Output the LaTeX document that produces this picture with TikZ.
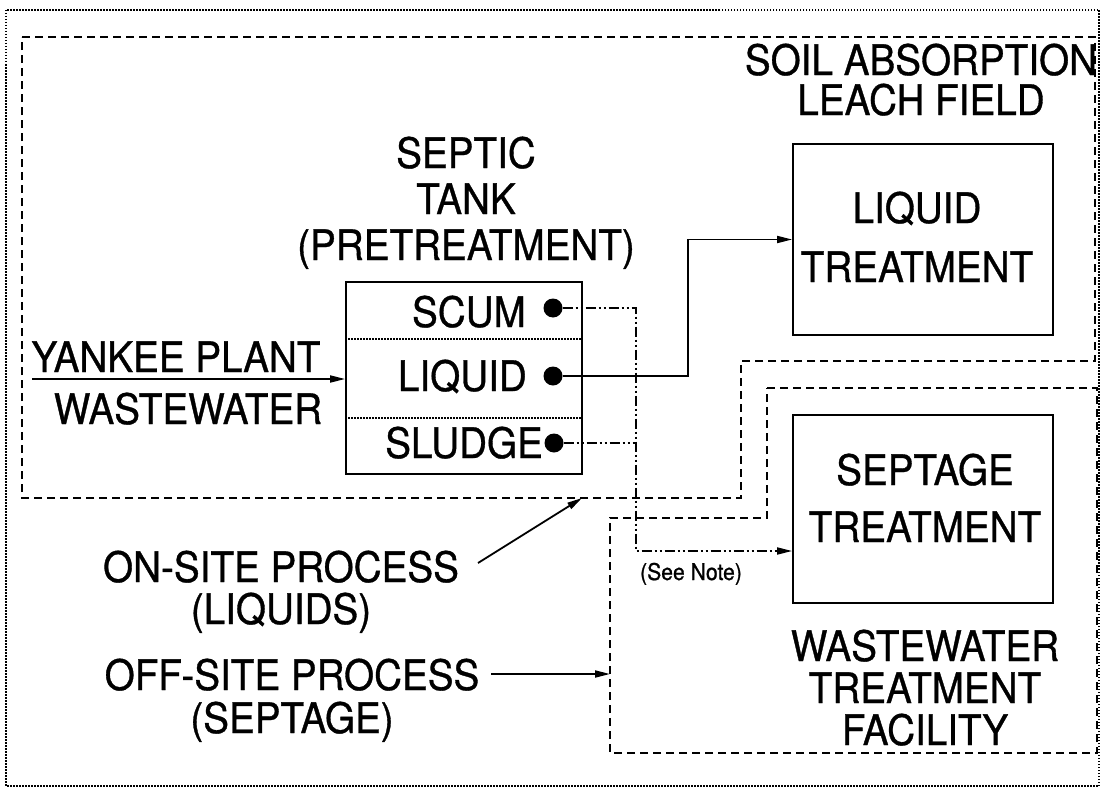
\documentclass[tikz,border=0pt]{standalone}
\usepackage{fontspec}
\setmainfont[FakeStretch=0.92,FakeBold=0.8]{TeX Gyre Heros}
\usetikzlibrary{arrows.meta}
\tikzset{
  >={Triangle[length=15pt,width=7pt]},
  lbl/.style={align=center,inner sep=0pt,anchor=base,font=\fontsize{42}{42}\selectfont},
  unit/.style={draw,line width=1.8pt,inner sep=0pt},
  zone/.style={line width=1.8pt,dash pattern=on 8pt off 5pt},
  frame/.style={line width=1.6pt,dash pattern=on 1.5pt off 1.5pt},
  sep/.style={line width=1.4pt,dash pattern=on 1.5pt off 1.5pt},
  port/.style={circle,fill,inner sep=0pt,minimum size=19pt},
  flow/.style={line width=1.8pt},
  solids/.style={line width=1.8pt,dash pattern=on 10pt off 3pt on 2pt off 3pt on 2pt off 3pt},
}
\begin{document}
\begin{tikzpicture}[x=1pt,y=-1pt]
\useasboundingbox (0,0) rectangle (1100,792);
\draw[frame] (6,10) rectangle (1099,786);
\draw[zone] (22,37) -- (1095,37) -- (1095,361) -- (741,361) -- (741,498) -- (22,498) -- cycle;
\draw[zone] (767,388) -- (1097,388) -- (1097,753) -- (610,753) -- (610,518) -- (767,518) -- cycle;

\node[unit,minimum width=236pt,minimum height=192pt] (tank) at (464,378) {};
\node[unit,minimum width=260pt,minimum height=191pt] (ltbox) at (923,239.5) {};
\node[unit,minimum width=260pt,minimum height=188pt] (stbox) at (923,509) {};
\coordinate (s1) at (464,339); \coordinate (s2) at (464,418);
\draw[sep] (tank.west |- s1) -- (tank.east |- s1);
\draw[sep] (tank.west |- s2) -- (tank.east |- s2);

\node[port] (scum) at (553,308) {}; \node[port] (liq) at (553,376) {}; \node[port] (sludge) at (554,443) {};
\node[lbl,anchor=base east] (scumtxt) at (526,327) {SCUM};
\node[lbl,anchor=base east] (liqtxt) at (527,391) {LIQUID};
\node[lbl,anchor=base east] (sludgetxt) at (543,458) {SLUDGE};

\node[lbl] (tanklbl) at (466,260) {SEPTIC\\[4pt]TANK\\[4pt](PRETREATMENT)};
\node[lbl] (soil) at (921,115) {SOIL ABSORPTION\\[-2pt]LEACH FIELD};
\node[lbl] (lttxt) at (917,282) {LIQUID\\[17pt]TREATMENT};
\node[lbl] (sttxt) at (925,542) {SEPTAGE\\[15pt]TREATMENT};
\node[lbl] (wwtf) at (925,745) {WASTEWATER\\[0pt]TREATMENT\\[0pt]FACILITY};
\node[lbl] (yank) at (176,372) {YANKEE PLANT};
\node[lbl] (ww) at (188,424) {WASTEWATER};
\node[lbl] (onsite) at (281,624) {ON-SITE PROCESS\\[0pt](LIQUIDS)};
\node[lbl] (offsite) at (292,733) {OFF-SITE PROCESS\\[1pt](SEPTAGE)};
\node[lbl,font=\fontsize{23}{23}\selectfont] (note) at (691,580) {(See Note)};

\coordinate (inlet) at (32,379);
\draw[flow,->] (inlet) -- (tank.west |- inlet);
\coordinate (lbend) at (688,239.5);
\draw[flow,->] (liq) -| (lbend) -- (ltbox.west);
\coordinate (sbend) at (636,551);
\draw[solids,->] (scum) -| (sbend) -- (stbox.west |- sbend);
\draw[solids] (sludge) -- (sludge -| sbend);
\coordinate (ontail) at (478,563); \coordinate (ontip) at (582,498);
\draw[flow,->] (ontail) -- (ontip);
\coordinate (offtail) at (491,674); \coordinate (offtip) at (610,674);
\draw[flow,->] (offtail) -- (offtip);
\end{tikzpicture}
\end{document}
